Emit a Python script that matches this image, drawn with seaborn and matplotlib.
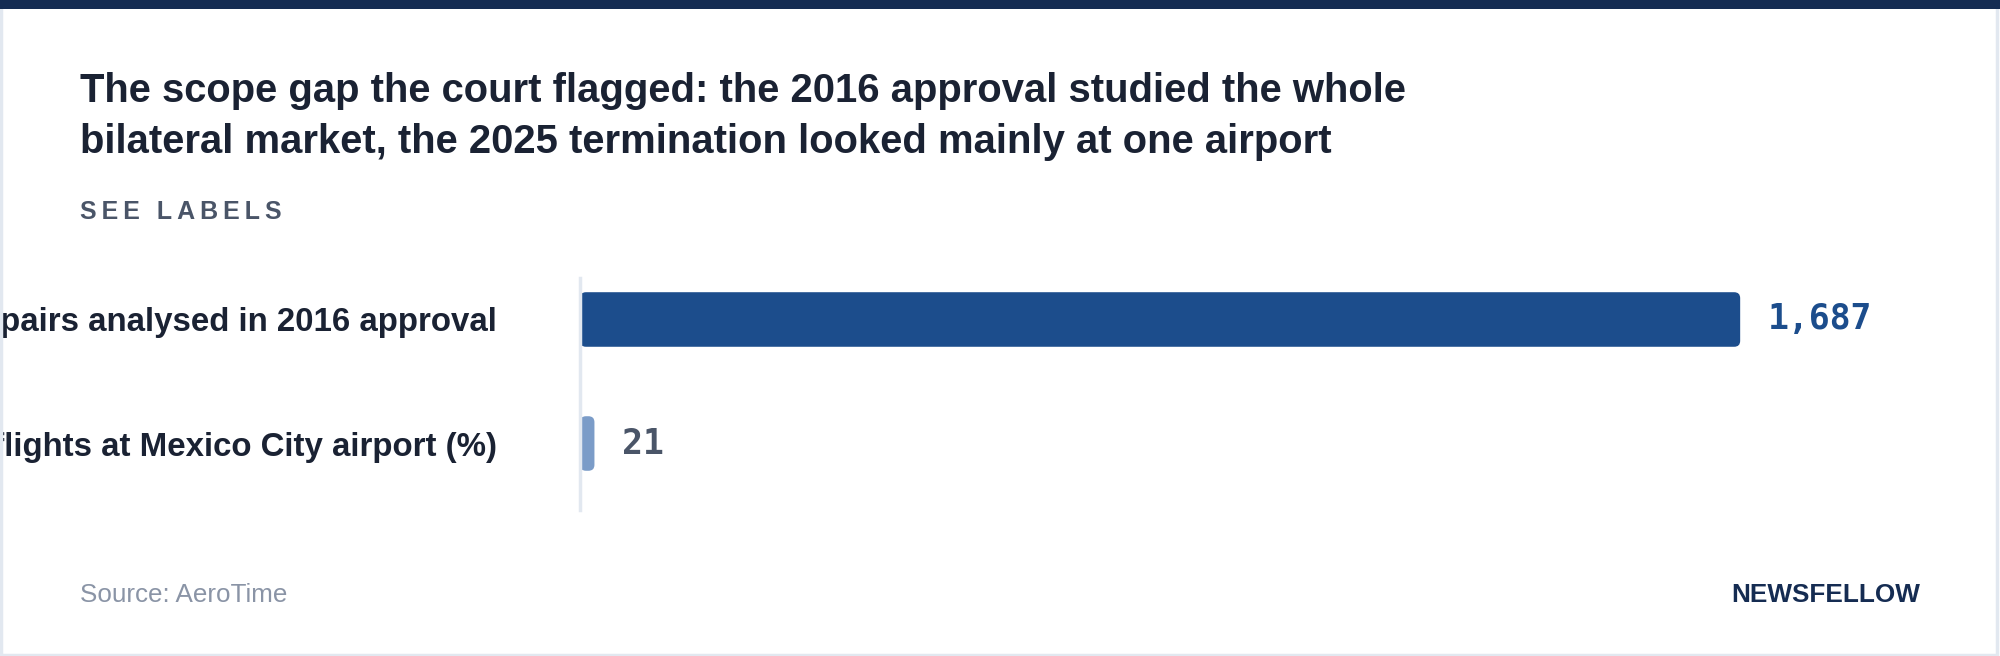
import numpy as np
import pandas as pd
import matplotlib.pyplot as plt
import seaborn as sns
from matplotlib.patches import FancyBboxPatch, Rectangle

sns.set_theme(style="white")
plt.rcParams['font.family'] = ['Liberation Sans', 'DejaVu Sans']

# data
categories = ['Origin-destination pairs analysed in 2016 approval',
              'Share of flights at Mexico City airport (%)']
values = [1687, 21]
value_labels = ['1,687', '21']
bar_colors = ['#1c4d8c', '#7b9cc8']
label_colors = ['#1c4d8c', '#4a5568']

title_lines = ["The scope gap the court flagged: the 2016 approval studied the whole",
               "bilateral market, the 2025 termination looked mainly at one airport"]
subtitle = "S\u2009E\u2009E\u2009 \u2009L\u2009A\u2009B\u2009E\u2009L\u2009S"
source = "Source: AeroTime"
brand = "NEWSFELLOW"

df = pd.DataFrame({'label': categories, 'value': values})

fig = plt.figure(figsize=(20, 6.56), dpi=100)
fig.patch.set_facecolor('white')

# card border + top band
fig.add_artist(Rectangle((0.0005, 0.002), 0.998, 0.996, transform=fig.transFigure,
                         fill=False, edgecolor='#e2e8f0', linewidth=2.5))
fig.add_artist(Rectangle((0, 1 - 9 / 656), 1, 9 / 656, transform=fig.transFigure,
                         facecolor='#152c52', edgecolor='none'))

ax = fig.add_axes([0.29, 0.2226, 0.67, 0.3537])
sns.barplot(data=df, x='value', y='label', hue='label', palette=bar_colors,
            orient='h', width=0.44, saturation=1, legend=False, ax=ax)

ax.set_xlim(0, max(values) * 1.155)
ax.set_ylim(1.536, -0.335)

# swap plain bars for rounded ones
fig.canvas.draw()
bbox = ax.get_window_extent()
xr = ax.get_xlim()[1] - ax.get_xlim()[0]
yr = abs(ax.get_ylim()[0] - ax.get_ylim()[1])
aspect = (yr / bbox.height) / (xr / bbox.width)
for p in list(ax.patches):
    x0, y0, w, h = p.get_x(), p.get_y(), p.get_width(), p.get_height()
    fc = p.get_facecolor()
    p.remove()
    r = min(6 / bbox.width * xr, w / 2)
    ax.add_patch(FancyBboxPatch((x0, y0), w, h,
                                boxstyle=f"round,pad=0,rounding_size={r}",
                                mutation_aspect=aspect, facecolor=fc,
                                edgecolor='none'))

for i, (v, t) in enumerate(zip(values, value_labels)):
    ax.annotate(t, xy=(v, i), xytext=(20, 0), textcoords='offset points',
                va='center', ha='left', fontsize=25, fontweight='bold',
                family='DejaVu Sans Mono', color=label_colors[i])

ax.set_xlabel('')
ax.set_ylabel('')
ax.set_xticks([])
ax.tick_params(axis='y', length=0, pad=60)
for lab in ax.get_yticklabels():
    lab.set_fontsize(23.8)
    lab.set_fontweight('bold')
    lab.set_color('#1a2233')
for s in ['top', 'right', 'bottom']:
    ax.spines[s].set_visible(False)
ax.spines['left'].set_color('#e2e8f0')
ax.spines['left'].set_linewidth(2.5)

for line, yb in zip(title_lines, [102, 153]):
    fig.text(0.04, 1 - yb / 656, line, fontsize=28.8, fontweight='bold',
             color='#1a2233', va='baseline', ha='left')
fig.text(0.04, 1 - 219 / 656, subtitle, fontsize=18, fontweight='bold',
         color='#4a5568', va='baseline', ha='left')
fig.text(0.04, 1 - 602 / 656, source, fontsize=18.7, color='#8a94a6',
         va='baseline', ha='left')
fig.text(0.96, 1 - 602 / 656, brand, fontsize=18.8, fontweight='bold',
         color='#152c52', va='baseline', ha='right')

fig.savefig('out.png', dpi=100)
